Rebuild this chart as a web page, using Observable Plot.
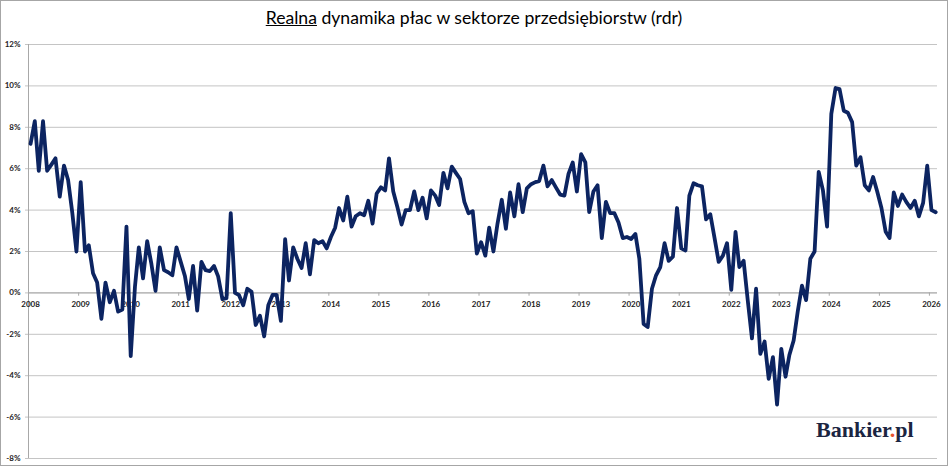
<!DOCTYPE html>
<html><head><meta charset="utf-8">
<script src="https://cdn.jsdelivr.net/npm/d3@7"></script>
<script src="https://cdn.jsdelivr.net/npm/@observablehq/plot@0.6"></script>
<style>
body{margin:0;background:#fff;}
#wrap{position:relative;width:948px;height:466px;overflow:hidden;background:#fff;font-family:Lato,"Open Sans",sans-serif;}
#title{height:36px;line-height:36px;text-align:center;font-size:17.6px;color:#000;white-space:nowrap;}
#chart svg{display:block;}
#border{position:absolute;left:0;top:0;width:948px;height:466px;box-sizing:border-box;border:1px solid #a6a6a6;pointer-events:none;}
#logo{position:absolute;left:816px;top:419px;line-height:22px;font-family:"Liberation Serif","DejaVu Serif",serif;font-weight:bold;font-size:22px;color:#1b2541;}
#logo span{color:#e8542c;}
</style>
</head><body>
<div id="wrap">
  <div id="title"><u>Realna</u> dynamika płac w sektorze przedsiębiorstw (rdr)</div>
  <div id="chart"></div>
  <div id="logo">Bankier<span>.</span>pl</div>
  <div id="border"></div>
</div>
<script>
// Monthly real wage growth y/y (%), January..December of each year
const v2008 = [7.2, 8.3, 5.9, 8.3, 5.9, 6.2, 6.5, 4.65, 6.15, 5.45, 3.85, 2.0];
const v2009 = [5.35, 2.0, 2.3, 0.95, 0.5, -1.25, 0.5, -0.45, 0.1, -0.9, -0.8, 3.2];
const v2010 = [-3.05, 0.3, 2.2, 0.7, 2.5, 1.4, 0.1, 2.2, 1.1, 1.0, 0.85, 2.2];
const v2011 = [1.5, 0.8, -0.3, 1.3, -0.85, 1.5, 1.1, 1.05, 1.3, 0.8, -0.3, -0.25];
const v2012 = [3.85, 0.0, -0.1, -0.6, 0.2, 0.05, -1.55, -1.1, -2.1, -0.6, -0.1, -0.1];
const v2013 = [-1.35, 2.6, 0.6, 2.2, 1.65, 1.2, 2.4, 0.9, 2.55, 2.4, 2.5, 2.15];
const v2014 = [2.7, 3.15, 4.1, 3.5, 4.65, 3.2, 3.7, 3.85, 3.75, 4.45, 3.35, 4.8];
const v2015 = [5.1, 4.95, 6.5, 4.9, 4.15, 3.3, 4.0, 4.0, 4.9, 4.0, 4.6, 3.6];
const v2016 = [4.95, 4.7, 4.25, 5.8, 5.05, 6.1, 5.8, 5.5, 4.4, 3.85, 3.95, 1.9];
const v2017 = [2.45, 1.8, 3.15, 2.0, 3.35, 4.5, 3.1, 4.85, 3.7, 5.25, 3.9, 5.05];
const v2018 = [5.25, 5.35, 5.4, 6.15, 5.15, 5.45, 5.1, 4.75, 4.7, 5.75, 6.3, 4.9];
const v2019 = [6.7, 6.3, 3.9, 4.9, 5.2, 2.65, 4.4, 3.85, 3.85, 3.4, 2.65, 2.7];
const v2020 = [2.6, 2.85, 1.65, -1.5, -1.65, 0.2, 0.85, 1.25, 2.4, 1.55, 1.75, 4.1];
const v2021 = [2.15, 2.05, 4.7, 5.3, 5.2, 5.15, 3.55, 3.8, 2.65, 1.5, 1.8, 2.4];
const v2022 = [0.15, 2.95, 1.25, 1.55, -0.35, -2.2, 0.2, -2.95, -2.35, -4.15, -3.1, -5.4];
const v2023 = [-2.7, -4.05, -3.0, -2.3, -0.9, 0.35, -0.35, 1.65, 2.0, 5.85, 4.95, 3.2];
const v2024 = [8.65, 9.9, 9.85, 8.8, 8.7, 8.25, 6.15, 6.55, 5.2, 4.95, 5.6, 4.9];
const v2025 = [4.1, 2.95, 2.65, 4.85, 4.2, 4.75, 4.4, 4.1, 4.45, 3.7, 4.35, 6.15];
const v2026 = [4.0, 3.9];

const years = [2008,2009,2010,2011,2012,2013,2014,2015,2016,2017,2018,2019,2020,2021,2022,2023,2024,2025,2026];
const yearSeries = [v2008,v2009,v2010,v2011,v2012,v2013,v2014,v2015,v2016,v2017,v2018,v2019,v2020,v2021,v2022,v2023,v2024,v2025,v2026];
const yTicks = [-8,-6,-4,-2,0,2,4,6,8,10,12];

const data = [];
yearSeries.forEach((arr, yi) => arr.forEach((v, mi) => data.push({date: new Date(years[yi], mi, 16), value: v})));

const xStart = new Date(2008, 0, 1);
const xEnd = new Date(2026, 2, 1);
const yearStarts = years.map(y => new Date(y, 0, 1));
const yearLabels = years.map(y => ({date: new Date(y, 0, 16), label: String(y)}));

const chart = Plot.plot({
  width: 948,
  height: 430,
  marginTop: 8,
  marginBottom: 8,
  marginLeft: 28,
  marginRight: 11,
  style: {background: "#fff", fontFamily: "Lato, 'Open Sans', sans-serif"},
  x: {type: "time", domain: [xStart, xEnd], axis: null},
  y: {domain: [-8, 12], axis: null},
  marks: [
    Plot.ruleY(yTicks, {stroke: "#c4c4c4", strokeWidth: 1, insetLeft: -3}),
    Plot.ruleY([0], {stroke: "#a8a8a8", strokeWidth: 1}),
    Plot.ruleX([xStart], {stroke: "#a8a8a8", strokeWidth: 1}),
    Plot.ruleX(yearStarts, {y1: 0, y2: -0.16, stroke: "#a8a8a8"}),
    Plot.axisY({ticks: yTicks, tickFormat: d => `${d}%`, tickSize: 0, tickPadding: 8, fontSize: 8, fontWeight: "bold", color: "#222", label: null}),
    Plot.text(yearLabels, {x: "date", y: () => 0, text: "label", dy: 12, fontSize: 8, fontWeight: "bold", fill: "#222"}),
    Plot.line(data, {x: "date", y: "value", stroke: "#0c2461", strokeWidth: 3.8, strokeLinejoin: "round", strokeLinecap: "round"})
  ]
});
document.getElementById("chart").appendChild(chart);
</script>
</body></html>
